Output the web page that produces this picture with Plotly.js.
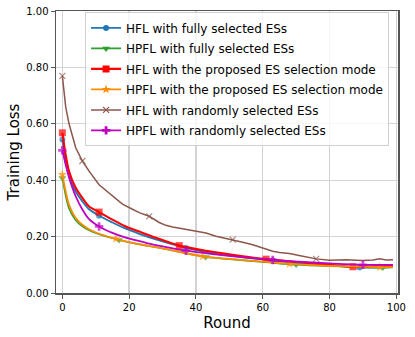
<!DOCTYPE html>
<html>
<head>
<meta charset="utf-8">
<script src="https://cdn.plot.ly/plotly-3.0.1.min.js"></script>
<style>
  html, body { margin: 0; padding: 0; background: #fff; }
  #plotArea { width: 415px; height: 337px; }
</style>
</head>
<body>
<div id="plotArea"></div>
<script>
// legend names
var names = [
    "HFL with fully selected ESs",
    "HPFL with fully selected ESs",
    "HFL with the proposed ES selection mode",
    "HPFL with the proposed ES selection mode",
    "HFL with randomly selected ESs",
    "HPFL with randomly selected ESs"
];

// HFL, fully selected ESs (blue)
var hflFullX = [0, 1, 2, 4, 6, 8, 11, 15, 19, 23, 28, 37, 44, 53, 63, 70, 80, 89, 99];
var hflFullY = [0.544, 0.47, 0.415, 0.36, 0.325, 0.297, 0.274, 0.25, 0.228, 0.21, 0.19, 0.16, 0.143, 0.128, 0.115, 0.107, 0.098, 0.09, 0.093];
var hflFullMarks = [0, 11, 37, 63, 89];

// HPFL, fully selected ESs (green)
var hpflFullX = [0, 1, 2, 4, 6, 8, 11, 17, 22, 30, 43, 50, 60, 70, 80, 96, 99];
var hpflFullY = [0.408, 0.345, 0.3, 0.258, 0.236, 0.222, 0.208, 0.188, 0.175, 0.158, 0.128, 0.12, 0.11, 0.1, 0.095, 0.09, 0.091];
var hpflFullMarks = [0, 17, 43, 70, 96];

// HFL, proposed ES selection mode (red)
var hflPropX = [0, 1, 2, 4, 6, 8, 11, 15, 19, 23, 28, 35, 44, 53, 61, 70, 80, 87, 93, 99];
var hflPropY = [0.568, 0.49, 0.432, 0.373, 0.337, 0.307, 0.287, 0.26, 0.236, 0.218, 0.196, 0.168, 0.148, 0.132, 0.12, 0.11, 0.1, 0.093, 0.095, 0.097];
var hflPropMarks = [0, 11, 35, 61, 87];

// HPFL, proposed ES selection mode (orange)
var hpflPropX = [0, 1, 2, 4, 6, 8, 11, 16, 22, 30, 42, 50, 60, 68, 80, 95, 99];
var hpflPropY = [0.42, 0.36, 0.313, 0.266, 0.242, 0.226, 0.21, 0.192, 0.175, 0.158, 0.13, 0.121, 0.111, 0.103, 0.096, 0.092, 0.092];
var hpflPropMarks = [0, 16, 42, 68, 95];

// HFL, randomly selected ESs (brown)
var hflRandX = [0, 1, 2, 3, 4, 6, 8, 11, 14, 16, 18, 21, 23, 26, 29, 31, 33, 36, 40, 43, 46, 51, 54, 57, 60, 63, 65, 68, 72, 76, 80, 85, 88, 90, 93, 95, 97, 99];
var hflRandY = [0.77, 0.66, 0.6, 0.555, 0.515, 0.468, 0.432, 0.384, 0.355, 0.335, 0.315, 0.297, 0.285, 0.272, 0.25, 0.24, 0.234, 0.228, 0.219, 0.213, 0.201, 0.189, 0.18, 0.171, 0.16, 0.148, 0.144, 0.14, 0.13, 0.121, 0.116, 0.118, 0.116, 0.115, 0.117, 0.121, 0.117, 0.118];
var hflRandMarks = [0, 6, 26, 51, 76];

// HPFL, randomly selected ESs (magenta)
var hpflRandX = [0, 1, 2, 4, 6, 8, 11, 15, 19, 25, 30, 37, 45, 53, 63, 72, 80, 90, 99];
var hpflRandY = [0.506, 0.455, 0.41, 0.343, 0.296, 0.262, 0.236, 0.213, 0.196, 0.178, 0.165, 0.15, 0.138, 0.128, 0.117, 0.11, 0.105, 0.1, 0.1];
var hpflRandMarks = [0, 11, 37, 63, 90];

var series = [
    {x: hflFullX,  y: hflFullY,  marks: hflFullMarks,  color: "#1f77b4", symbol: "circle",        size: 6, width: 1.8, shape: "spline"},
    {x: hpflFullX, y: hpflFullY, marks: hpflFullMarks, color: "#2ca02c", symbol: "triangle-down", size: 7, width: 1.6, shape: "spline"},
    {x: hflPropX,  y: hflPropY,  marks: hflPropMarks,  color: "#ff0000", symbol: "square",        size: 7, width: 2.1, shape: "spline"},
    {x: hpflPropX, y: hpflPropY, marks: hpflPropMarks, color: "#ff8c00", symbol: "star",          size: 7, width: 1.8, shape: "spline"},
    {x: hflRandX,  y: hflRandY,  marks: hflRandMarks,  color: "#8c564b", symbol: "x-thin-open",   size: 6, width: 1.5, shape: "linear"},
    {x: hpflRandX, y: hpflRandY, marks: hpflRandMarks, color: "#bf00bf", symbol: "cross",         size: 7, width: 1.8, shape: "spline"}
];

var trace = [];
// curves, markers only where the marks are
series.forEach(function(s, i) {
    trace.push({
        x: s.x,
        y: s.y,
        type: "scatter",
        mode: "lines+markers",
        showlegend: false,
        hoverinfo: "skip",
        line: {color: s.color, width: s.width, shape: s.shape, smoothing: 0.8},
        marker: {
            symbol: s.symbol,
            color: s.color,
            size: s.x.map(r => s.marks.includes(r) ? s.size : 0),
            line: {color: s.color, width: s.symbol == "x-thin-open" ? 1.2 : 0}
        }
    });
});
// legend entries
series.forEach(function(s, i) {
    trace.push({
        x: [null],
        y: [null],
        name: names[i],
        legendgroup: "g" + i,
        type: "scatter",
        mode: "lines+markers",
        line: {color: s.color, width: s.width},
        marker: {symbol: s.symbol, color: s.color, size: s.size,
                 line: {color: s.color, width: s.symbol == "x-thin-open" ? 1.2 : 0}}
    });
});

var layout = {
    width: 415,
    height: 337,
    margin: {l: 56, r: 17, t: 11, b: 44},
    paper_bgcolor: "#fff",
    plot_bgcolor: "#fff",
    font: {family: "DejaVu Sans", color: "#000", size: 10},
    showlegend: true,
    legend: {
        x: 0.085, y: 0.995, xanchor: "left", yanchor: "top",
        bgcolor: "rgba(255,255,255,0.8)",
        bordercolor: "#d0d0d0", borderwidth: 1,
        font: {family: "DejaVu Sans", size: 12},
        itemwidth: 30,
        tracegroupgap: 1.5
    },
    xaxis: {
        title: {text: "Round", font: {size: 15}, standoff: 6},
        range: [-1.9, 100.5],
        tickvals: [0, 20, 40, 60, 80, 100],
        showgrid: true, gridcolor: "#d3d3d3", gridwidth: 1.3,
        zeroline: false,
        showline: true, mirror: true, linecolor: "#555", linewidth: 1.5,
        ticks: "outside", ticklen: 4, tickcolor: "#555",
        tickfont: {size: 10}
    },
    yaxis: {
        title: {text: "Training Loss", font: {size: 15}, standoff: 3},
        range: [0, 1],
        tickvals: [0, 0.2, 0.4, 0.6, 0.8, 1.0],
        tickformat: ".2f",
        showgrid: true, gridcolor: "#d3d3d3", gridwidth: 1.3,
        zeroline: false,
        showline: true, mirror: true, linecolor: "#555", linewidth: 1.5,
        ticks: "outside", ticklen: 4, tickcolor: "#555",
        tickfont: {size: 10}
    }
};

Plotly.newPlot("plotArea", trace, layout, {staticPlot: true});
</script>
</body>
</html>
